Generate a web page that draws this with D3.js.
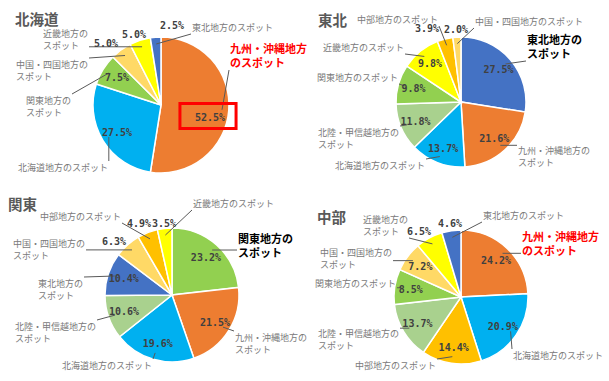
<!DOCTYPE html>
<html>
<head>
<meta charset="utf-8">
<script src="https://cdn.jsdelivr.net/npm/d3@7"></script>
<style>
  body { margin: 0; background: #fff; }
</style>
</head>
<body>
<svg id="chart" width="609" height="381"></svg>
<script>
// ---- data ----
var hokkaidoCats = ["九州・沖縄", "北海道", "関東", "中国・四国", "近畿", "東北"];
var hokkaidoVals = [52.5, 27.5, 7.5, 5.0, 5.0, 2.5];

var tohokuCats = ["東北", "九州・沖縄", "北海道", "北陸・甲信越", "関東", "近畿", "中部", "中国・四国"];
var tohokuVals = [27.5, 21.6, 13.7, 11.8, 9.8, 9.8, 3.9, 2.0];

var kantoCats = ["関東", "九州・沖縄", "北海道", "北陸・甲信越", "東北", "中国・四国", "中部", "近畿"];
var kantoVals = [23.2, 21.5, 19.6, 10.6, 10.4, 6.3, 4.9, 3.5];

var chubuCats = ["九州・沖縄", "北海道", "中部", "北陸・甲信越", "関東", "中国・四国", "近畿", "東北"];
var chubuVals = [24.2, 20.9, 14.4, 13.7, 8.5, 7.2, 6.5, 4.6];

var allCats = ["東北", "九州・沖縄", "北海道", "北陸・甲信越", "関東", "近畿", "中部", "中国・四国"];

// ---- styles / layout ----
var color = d3.scaleOrdinal()
    .domain(allCats)
    .range(["#4472C4", "#ED7D31", "#00B0F0", "#A9D18E", "#92D050", "#FFFF00", "#FFC000", "#FFD966"]);

// label offsets: [dx, dy from pie centre to left/first baseline, chars on first line (0 = one line)]
// pct: manual spots for % labels that sit off the default place (null = centroid)
var panels = [
    {title: "北海道", tx: 15, ty: 25, cx: 161, cy: 105, r: 68, cats: hokkaidoCats, vals: hokkaidoVals,
        hi: 0, hiColor: "#FF0000", box: true,
        labels: [[69, -52, 7], [-143, 66, 0], [-135, -1, 5], [-145, -37, 8], [-118, -68, 5], [31, -74, 0]],
        pct: [[49, 12], null, null, [-55, -62], [-27, -71], [11, -80]]},
    {title: "東北", tx: 318, ty: 26, cx: 461, cy: 102, r: 65, cats: tohokuCats, vals: tohokuVals,
        hi: 0, hiColor: "#000000",
        labels: [[66, -58, 5], [57, 52, 8], [-126, 67, 0], [-143, 34, 9], [-144, -21, 0], [-138, -51, 0], [-104, -79, 0], [14, -77, 0]],
        pct: [null, null, null, null, null, null, [-34, -74], [-5, -73]]},
    {title: "関東", tx: 8, ty: 210, cx: 172, cy: 295, r: 67, cats: kantoCats, vals: kantoVals,
        hi: 0, hiColor: "#000000",
        labels: [[66, -52, 5], [63, 46, 8], [-110, 74, 0], [-157, 35, 9], [-134, -8, 5], [-159, -48, 8], [-132, -75, 0], [21, -88, 0]],
        pct: [null, null, null, null, null, [-58, -54], [-33, -72], [-8, -72]]},
    {title: "中部", tx: 317, ty: 223, cx: 461, cy: 297, r: 67, cats: chubuCats, vals: chubuVals,
        hi: 0, hiColor: "#FF0000",
        labels: [[61, -56, 7], [52, 62, 0], [-106, 72, 0], [-143, 40, 9], [-146, -10, 0], [-141, -41, 8], [-98, -74, 5], [22, -78, 0]],
        pct: [null, null, null, null, null, null, [-42, -66], [-11, -74]]}
];

var svg = d3.select("#chart");
var fmt = d3.format(".1f");
var cjk = "'Noto Sans CJK JP', 'Noto Sans', sans-serif";

panels.forEach(function (p) {
    var data = p.cats.map(function (c, i) { return {cat: c, v: p.vals[i]}; });
    var pie = d3.pie().sort(null).value(function (d) { return d.v; });
    var arcs = pie(data);
    var arc = d3.arc().innerRadius(0).outerRadius(p.r);
    var pctArc = d3.arc().innerRadius(p.r * 0.76).outerRadius(p.r * 0.76);
    var leadArc = d3.arc().innerRadius(p.r * 0.9).outerRadius(p.r * 0.9);

    function pctPos(d, i) {
        return p.pct[i] || pctArc.centroid(d);
    }

    svg.append("text")
        .attr("x", p.tx).attr("y", p.ty)
        .style("font-family", cjk)
        .style("font-size", "14.5px")
        .style("font-weight", "bold")
        .attr("fill", "#595959")
        .text(p.title);

    var g = svg.append("g").attr("transform", "translate(" + p.cx + "," + p.cy + ")");

    g.selectAll("path.slice")
        .data(arcs)
        .enter().append("path")
        .attr("class", "slice")
        .attr("d", arc)
        .attr("fill", function (d) { return color(d.data.cat); })
        .attr("stroke", "#fff")
        .attr("stroke-width", 1.5);

    var leaders = g.append("g");

    // category labels
    var labs = g.selectAll("g.cat")
        .data(arcs)
        .enter().append("g")
        .attr("class", "cat")
        .attr("transform", function (d, i) {
            return "translate(" + p.labels[i][0] + "," + p.labels[i][1] + ")";
        });

    labs.each(function (d, i) {
        var full = d.data.cat + "地方のスポット";
        var split = p.labels[i][2];
        var lines = split ? [full.slice(0, split), full.slice(split)] : [full];
        var isHi = i === p.hi;
        var t = d3.select(this).append("text")
            .style("font-family", cjk)
            .style("font-size", isHi ? "11px" : "9px")
            .style("font-weight", isHi ? "bold" : "normal")
            .attr("fill", isHi ? p.hiColor : "#7a7a7a");
        lines.forEach(function (s, k) {
            t.append("tspan").attr("x", 0).attr("y", k * (isHi ? 14 : 12)).text(s);
        });
    });

    // leader lines from label box to slice
    labs.each(function (d, i) {
        var b = this.getBBox();
        var ox = p.labels[i][0], oy = p.labels[i][1];
        var end = leadArc.centroid(d);
        var x0 = ox + b.x - 1, x1 = ox + b.x + b.width + 1;
        var y0 = oy + b.y, y1 = oy + b.y + b.height;
        var sx = Math.max(x0, Math.min(x1, end[0]));
        var sy = Math.max(y0, Math.min(y1, end[1]));
        leaders.append("line")
            .attr("x1", sx).attr("y1", sy)
            .attr("x2", end[0]).attr("y2", end[1])
            .attr("stroke", "#595959")
            .attr("stroke-width", 1);
    });

    // percentage labels
    var pct = g.selectAll("text.pct")
        .data(arcs)
        .enter().append("text")
        .attr("class", "pct")
        .attr("transform", function (d, i) {
            var c = pctPos(d, i);
            return "translate(" + c[0] + "," + c[1] + ")";
        })
        .attr("text-anchor", "middle")
        .attr("dy", "0.35em")
        .style("font-family", "'DejaVu Sans Mono', monospace")
        .style("font-size", "10px")
        .style("font-weight", "bold")
        .attr("fill", "#404040")
        .text(function (d) { return fmt(d.data.v) + "%"; });

    if (p.box) {
        pct.filter(function (d, i) { return i === p.hi; }).each(function (d, i) {
            var b = this.getBBox();
            var c = pctPos(d, p.hi);
            g.append("rect")
                .attr("x", c[0] + b.x - 15)
                .attr("y", c[1] + b.y - 8)
                .attr("width", b.width + 26)
                .attr("height", b.height + 14)
                .attr("fill", "none")
                .attr("stroke", "#FF0000")
                .attr("stroke-width", 3);
        });
    }
});
</script>
</body>
</html>
